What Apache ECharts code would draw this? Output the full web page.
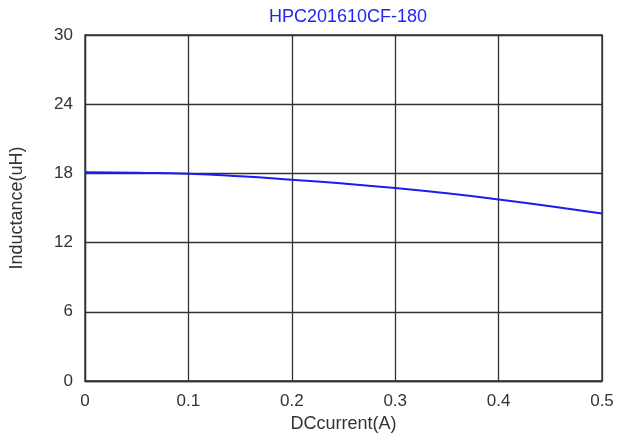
<!DOCTYPE html>
<html>
<head>
    <meta charset="utf-8"/>
    <script src="https://cdn.jsdelivr.net/npm/echarts@6/dist/echarts.min.js"></script>
    <style>
        html, body { margin: 0; padding: 0; background: #fff; }
        #main { width: 619px; height: 439px; }
    </style>
</head>
<body>
<div id="main"></div>
<script type="text/javascript">
    // values
    var current = [0, 0.05, 0.1, 0.15, 0.2, 0.25, 0.3, 0.35, 0.4, 0.45, 0.5];
    var inductance = [18.11, 18.05, 17.97, 17.75, 17.45, 17.12, 16.73, 16.27, 15.74, 15.16, 14.53];

    var titleText = 'HPC201610CF-180';
    var xName = 'DCcurrent(A)';
    var yName = 'Inductance(uH)';

    var myChart = echarts.init(document.getElementById('main'));

    var pts = current.map(function (c, i) { return [c, inductance[i]]; });

    myChart.setOption({
        backgroundColor: '#fff',
        animation: false,
        title: {
            text: titleText,
            left: 343,
            top: 3,
            textAlign: 'center',
            textStyle: { color: '#2424f2', fontSize: 18, fontWeight: 'normal', fontFamily: 'Liberation Sans' }
        },
        grid: { left: 85, top: 35, width: 517, height: 346, show: true, borderColor: '#333', borderWidth: 1.3 },
        xAxis: {
            type: 'value',
            min: 0, max: 0.5, interval: 0.1,
            name: xName,
            nameLocation: 'middle',
            nameGap: 32,
            nameTextStyle: { color: '#333', fontSize: 18, fontFamily: 'Liberation Sans' },
            axisLine: { show: true, lineStyle: { color: '#333', width: 1.3 } },
            axisTick: { show: false },
            axisLabel: { color: '#333', fontSize: 17, fontFamily: 'Liberation Sans', margin: 12 },
            splitLine: { show: true, lineStyle: { color: '#333', width: 1.3 } }
        },
        yAxis: {
            type: 'value',
            min: 0, max: 30, interval: 6,
            name: yName,
            nameLocation: 'middle',
            nameGap: 59,
            nameTextStyle: { color: '#333', fontSize: 18, fontFamily: 'Liberation Sans' },
            axisLine: { show: true, lineStyle: { color: '#333', width: 1.3 } },
            axisTick: { show: false },
            axisLabel: { color: '#333', fontSize: 17, fontFamily: 'Liberation Sans', margin: 12 },
            splitLine: { show: true, lineStyle: { color: '#333', width: 1.3 } }
        },
        series: [{
            type: 'line',
            data: pts,
            smooth: true,
            showSymbol: false,
            lineStyle: { color: '#1c1cf0', width: 2 }
        }]
    });
</script>
</body>
</html>
